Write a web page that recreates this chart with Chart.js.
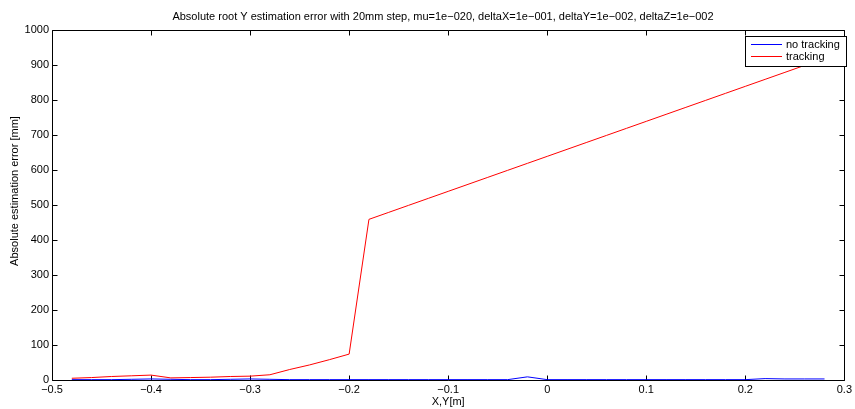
<!DOCTYPE html>
<html>
<head>
<meta charset="utf-8">
<script src="https://cdn.jsdelivr.net/npm/chart.js@4.4.1/dist/chart.umd.min.js"></script>
<style>
  html, body { margin: 0; padding: 0; background: #fff; }
  #wrap { width: 855px; height: 409px; position: relative; }
</style>
</head>
<body>
<div id="wrap"><canvas id="c" width="855" height="409"></canvas></div>
<script>
const chartTitle = "Absolute root Y estimation error with 20mm step, mu=1e\u2212020, deltaX=1e\u2212001, deltaY=1e\u2212002, deltaZ=1e\u2212002";
const xAxisTitle = "X,Y[m]";
const yAxisTitle = "Absolute estimation error [mm]";
const seriesNames = ["no tracking", "tracking"];
const seriesColors = ["#0000ff", "#ff0000"];

const xPositions = [-0.48, -0.46, -0.44, -0.42, -0.40, -0.38, -0.36, -0.34, -0.32, -0.30,
                    -0.28, -0.26, -0.24, -0.22, -0.20, -0.18, -0.16, -0.14, -0.12, -0.10,
                    -0.08, -0.06, -0.04, -0.02, 0.00, 0.02, 0.04, 0.06, 0.08, 0.10,
                    0.12, 0.14, 0.16, 0.18, 0.20, 0.22, 0.24, 0.26, 0.28];

const noTracking = [1, 1, 1, 2, 3, 2, 1, 1, 2, 3,
                    2, 1, 1, 1, 1, 1, 1, 1, 1, 1,
                    1, 1, 1, 9, 1, 1, 1, 1, 1, 1,
                    1, 1, 1, 1, 1, 4, 3, 3, 3];

const tracking = [5, 7, 10, 12, 14, 6, 7, 8, 10, 11,
                  15, 30, 43, 58, 74, 459, 479, 499, 519, 539,
                  559, 579, 599, 619, 639, 659, 679, 699, 719, 739,
                  759, 779, 799, 819, 839, 859, 879, 899, 919];

const xTicks = [-0.5, -0.4, -0.3, -0.2, -0.1, 0, 0.1, 0.2, 0.3];
const yTicks = [0, 100, 200, 300, 400, 500, 600, 700, 800, 900, 1000];

const FONT = "'Liberation Sans', Arial, Helvetica, sans-serif";

function toPoints(xs, ys) { return xs.map((x, i) => ({ x: x, y: ys[i] })); }

function fmtX(v) {
  const r = Math.round(v * 10) / 10;
  if (Math.abs(r) < 1e-9) return "0";
  return r.toFixed(1).replace("-", "\u2212");
}

const framePlugin = {
  id: 'frame',
  beforeDatasetsDraw(chart) {
    const { ctx, chartArea: a, scales } = chart;
    const L = Math.round(a.left) + 0.5, R = Math.round(a.right) + 0.5;
    const T = Math.round(a.top) + 0.5, B = Math.round(a.bottom) + 0.5;
    ctx.save();
    ctx.strokeStyle = '#000';
    ctx.lineWidth = 1;
    ctx.beginPath();
    ctx.rect(L, T, R - L, B - T);
    ctx.stroke();
    const tl = 5;
    ctx.beginPath();
    xTicks.forEach(v => {
      const px = Math.round(scales.x.getPixelForValue(v)) + 0.5;
      ctx.moveTo(px, B); ctx.lineTo(px, B - tl);
      ctx.moveTo(px, T); ctx.lineTo(px, T + tl);
    });
    yTicks.forEach(v => {
      const py = Math.round(scales.y.getPixelForValue(v)) + 0.5;
      ctx.moveTo(L, py); ctx.lineTo(L + tl, py);
      ctx.moveTo(R, py); ctx.lineTo(R - tl, py);
    });
    ctx.stroke();

    ctx.fillStyle = '#000';
    ctx.font = '11px ' + FONT;
    ctx.textAlign = 'center';
    ctx.textBaseline = 'middle';
    ctx.fillText(chartTitle, 443, 17);
    ctx.fillText(xAxisTitle, (a.left + a.right) / 2, 402);
    ctx.save();
    ctx.translate(15, 191);
    ctx.rotate(-Math.PI / 2);
    ctx.fillText(yAxisTitle, 0, 0);
    ctx.restore();
    ctx.restore();
  },
  afterDatasetsDraw(chart) {
    const { ctx } = chart;
    ctx.save();
    ctx.font = '11px ' + FONT;
    const bx = 745, by = 36, bw = 101, bh = 30;
    ctx.fillStyle = '#ffffff';
    ctx.fillRect(bx, by, bw, bh);
    ctx.fillStyle = '#000000';
    ctx.fillRect(bx, by, bw + 1, 1);
    ctx.fillRect(bx, by + bh, bw + 1, 1);
    ctx.fillRect(bx, by, 1, bh + 1);
    ctx.fillRect(bx + bw, by, 1, bh + 1);
    seriesNames.forEach((name, i) => {
      const y = 44 + i * 12;
      ctx.fillStyle = seriesColors[i];
      ctx.fillRect(751, y, 31, 1);
      ctx.fillStyle = '#000000';
      ctx.textAlign = 'left';
      ctx.textBaseline = 'middle';
      ctx.fillText(name, 786, y + 0.5);
    });
    ctx.restore();
  }
};

new Chart(document.getElementById('c'), {
  type: 'line',
  data: {
    datasets: [
      { label: seriesNames[0], data: toPoints(xPositions, noTracking), borderColor: seriesColors[0], backgroundColor: seriesColors[0], borderWidth: 1, pointRadius: 0, tension: 0, fill: false, order: 0 },
      { label: seriesNames[1], data: toPoints(xPositions, tracking), borderColor: seriesColors[1], backgroundColor: seriesColors[1], borderWidth: 1, pointRadius: 0, tension: 0, fill: false, order: 1 }
    ]
  },
  options: {
    responsive: false,
    animation: false,
    devicePixelRatio: 1,
    layout: { padding: { top: 30, right: 8, left: 0, bottom: 0 } },
    plugins: { legend: { display: false }, title: { display: false }, tooltip: { enabled: false } },
    scales: {
      x: {
        type: 'linear', min: -0.5, max: 0.3,
        afterBuildTicks(s) { s.ticks = xTicks.map(v => ({ value: v })); },
        afterFit(s) { s.height = 29; },
        grid: { display: false, drawTicks: false },
        border: { display: false },
        ticks: { color: '#000', padding: 3, maxRotation: 0, autoSkip: false, font: { family: FONT, size: 11 }, callback: v => fmtX(v) }
      },
      y: {
        type: 'linear', min: 0, max: 1000,
        afterBuildTicks(s) { s.ticks = yTicks.map(v => ({ value: v })); },
        afterFit(s) { s.width = 52; },
        grid: { display: false, drawTicks: false },
        border: { display: false },
        ticks: { color: '#000', padding: 3, autoSkip: false, font: { family: FONT, size: 11 }, callback: v => String(v) }
      }
    }
  },
  plugins: [framePlugin]
});
</script>
</body>
</html>
